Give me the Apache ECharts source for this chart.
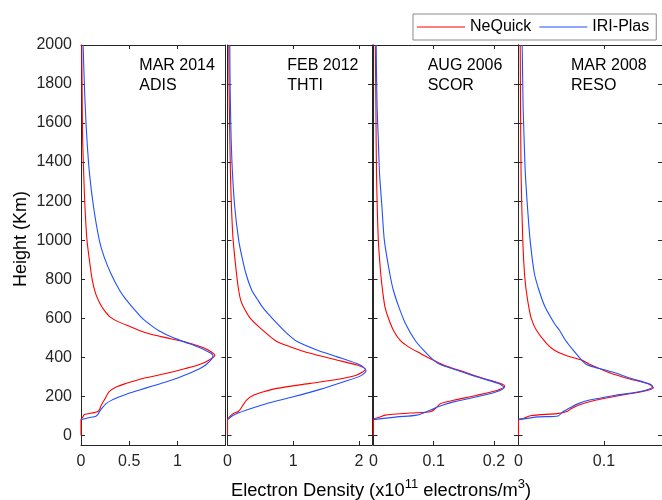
<!DOCTYPE html>
<html>
<head>
<meta charset="utf-8">
<script src="https://cdn.jsdelivr.net/npm/echarts@6/dist/echarts.min.js"></script>
<style>html,body{margin:0;padding:0;background:#fff}#c{width:662px;height:500px}</style>
</head>
<body>
<div id="c"></div>
<script>
// ---------- data ----------
const panelMonths = ['MAR 2014', 'FEB 2012', 'AUG 2006', 'MAR 2008'];
const panelStations = ['ADIS', 'THTI', 'SCOR', 'RESO'];
const xMaxValues = [1.5, 2.2, 0.24, 0.168];
const xTickValues = [[0, 0.5, 1], [0, 1, 2], [0, 0.1, 0.2], [0, 0.1]];
const yTickValues = [0, 200, 400, 600, 800, 1000, 1200, 1400, 1600, 1800, 2000];

// ADIS (MAR 2014)
const adisNeQuickH = [0, 80, 94, 106, 116, 122, 135, 154, 188, 222, 248, 265, 291, 316, 342, 368, 395, 410, 428, 445, 462, 478, 504, 521, 538, 555, 581, 607, 641, 675, 726, 795, 914, 1000, 1171, 1342, 1513, 1683, 1854, 2000];
const adisNeQuickNe = [0, 0, 0.02, 0.034, 0.137, 0.175, 0.195, 0.21, 0.25, 0.29, 0.37, 0.465, 0.64, 0.88, 1.085, 1.26, 1.36, 1.39, 1.35, 1.29, 1.19, 1.085, 0.84, 0.70, 0.60, 0.52, 0.39, 0.30, 0.24, 0.197, 0.152, 0.117, 0.083, 0.062, 0.041, 0.028, 0.017, 0.013, 0.010, 0.007];
const adisIriH = [80, 90, 97, 110, 120, 140, 162, 180, 197, 214, 231, 252, 273, 295, 316, 338, 359, 376, 393, 410, 423, 436, 453, 470, 490, 513, 538, 570, 598, 630, 658, 700, 743, 829, 914, 1000, 1171, 1342, 1513, 1683, 1854, 2000];
const adisIriNe = [0, 0.08, 0.155, 0.18, 0.19, 0.22, 0.26, 0.32, 0.40, 0.49, 0.60, 0.74, 0.88, 1.01, 1.12, 1.22, 1.29, 1.33, 1.36, 1.37, 1.34, 1.29, 1.21, 1.12, 1.01, 0.90, 0.80, 0.71, 0.64, 0.58, 0.53, 0.46, 0.40, 0.31, 0.24, 0.19, 0.13, 0.088, 0.062, 0.044, 0.031, 0.022];

// THTI (FEB 2012)
const thtiNeQuickH = [0, 80, 94, 111, 123, 146, 180, 206, 223, 240, 266, 286, 309, 338, 360, 386, 420, 454, 480, 549, 600, 660, 694, 743, 829, 1000, 1171, 1342, 1513, 1683, 1854, 2000];
const thtiNeQuickNe = [0, 0, 0.03, 0.09, 0.17, 0.22, 0.29, 0.40, 0.55, 0.75, 1.26, 1.66, 1.97, 2.10, 1.97, 1.66, 1.26, 0.95, 0.75, 0.50, 0.345, 0.24, 0.20, 0.17, 0.137, 0.086, 0.06, 0.045, 0.036, 0.028, 0.022, 0.02];
const thtiIriH = [80, 103, 129, 163, 197, 235, 274, 303, 331, 360, 403, 437, 480, 523, 574, 626, 658, 694, 743, 829, 914, 1000, 1171, 1342, 1513, 1683, 1854, 2000];
const thtiIriNe = [0, 0.09, 0.29, 0.60, 1.0, 1.41, 1.77, 2.02, 2.11, 2.02, 1.66, 1.36, 1.06, 0.90, 0.75, 0.61, 0.53, 0.46, 0.37, 0.28, 0.22, 0.17, 0.11, 0.076, 0.056, 0.045, 0.038, 0.035];

// SCOR (AUG 2006)
const scorNeQuickH = [0, 80, 94, 103, 114, 120, 137, 162, 179, 205, 231, 251, 265, 291, 325, 359, 393, 419, 453, 487, 538, 598, 658, 743, 829, 1000, 1342, 1683, 2000];
const scorNeQuickNe = [0, 0, 0.011, 0.019, 0.061, 0.094, 0.103, 0.111, 0.133, 0.172, 0.206, 0.218, 0.211, 0.183, 0.15, 0.117, 0.094, 0.078, 0.058, 0.044, 0.033, 0.025, 0.019, 0.015, 0.012, 0.008, 0.005, 0.004, 0.003];
const scorIriH = [80, 94, 103, 128, 145, 171, 197, 222, 244, 265, 299, 333, 362, 393, 436, 487, 573, 658, 743, 829, 1000, 1171, 1342, 1513, 1683, 1854, 2000];
const scorIriNe = [0, 0.039, 0.072, 0.094, 0.106, 0.133, 0.172, 0.203, 0.217, 0.208, 0.172, 0.139, 0.111, 0.097, 0.083, 0.069, 0.053, 0.042, 0.033, 0.027, 0.018, 0.014, 0.010, 0.008, 0.006, 0.005, 0.0045];

// RESO (MAR 2008)
const resoNeQuickH = [0, 80, 85, 100, 111, 120, 137, 154, 179, 205, 227, 243, 265, 291, 316, 342, 367, 385, 410, 436, 470, 538, 598, 658, 743, 829, 1000, 1342, 2000];
const resoNeQuickNe = [0, 0, 0.005, 0.014, 0.045, 0.056, 0.062, 0.07, 0.090, 0.120, 0.148, 0.158, 0.151, 0.128, 0.109, 0.095, 0.082, 0.074, 0.055, 0.042, 0.033, 0.021, 0.015, 0.012, 0.009, 0.007, 0.005, 0.003, 0.002];
const resoIriH = [80, 94, 99, 120, 145, 162, 179, 205, 222, 240, 250, 265, 291, 325, 350, 364, 385, 436, 487, 538, 573, 658, 743, 829, 1000, 1171, 1342, 1513, 1683, 1854, 2000];
const resoIriNe = [0, 0.023, 0.0465, 0.052, 0.062, 0.070, 0.082, 0.114, 0.140, 0.155, 0.157, 0.152, 0.132, 0.109, 0.088, 0.079, 0.074, 0.064, 0.055, 0.048, 0.042, 0.031, 0.024, 0.0186, 0.0136, 0.0105, 0.008, 0.0066, 0.0054, 0.0048, 0.0043];

const neQuickProfiles = [[adisNeQuickH, adisNeQuickNe], [thtiNeQuickH, thtiNeQuickNe], [scorNeQuickH, scorNeQuickNe], [resoNeQuickH, resoNeQuickNe]];
const iriProfiles = [[adisIriH, adisIriNe], [thtiIriH, thtiIriNe], [scorIriH, scorIriNe], [resoIriH, resoIriNe]];

// ---------- layout ----------
const FONT = '"Liberation Sans", Arial, Helvetica, sans-serif';
const AX = '#262626';
const RED = '#ff0000', BLUE = '#1f4fff';
const gridLefts = [81, 227.5, 373.5, 518.5];
const gridWidth = 144.5;
const gridTop = 45, gridHeight = 400;
const titleX = [139.3, 287.3, 427.7, 571];

const grids = [], xAxes = [], yAxes = [], series = [], graphics = [];
const pair = (H, N) => H.map((h, k) => [N[k], h]);

for (let i = 0; i < 4; i++) {
  grids.push({ left: gridLefts[i], top: gridTop, width: gridWidth, height: gridHeight, containLabel: false });
  const tickStyle = { color: AX, width: 1 };
  const xBase = { gridIndex: i, type: 'value', min: 0, max: xMaxValues[i], splitLine: { show: false },
    axisLine: { show: true, onZero: false, lineStyle: { color: AX, width: 1 } } };
  xAxes.push(Object.assign({}, xBase, { position: 'bottom',
    axisTick: { show: true, inside: true, length: 4, customValues: xTickValues[i], lineStyle: tickStyle },
    axisLabel: { show: true, customValues: xTickValues[i], margin: 9, fontSize: 16, color: AX, fontFamily: FONT,
      formatter: v => String(v) } }));
  xAxes.push(Object.assign({}, xBase, { position: 'top',
    axisTick: { show: true, inside: true, length: 4, customValues: xTickValues[i], lineStyle: tickStyle },
    axisLabel: { show: false } }));
  const yBase = { gridIndex: i, type: 'value', min: -50, max: 2000, splitLine: { show: false },
    axisLine: { show: true, onZero: false, lineStyle: { color: AX, width: 1 } } };
  yAxes.push(Object.assign({}, yBase, { position: 'left',
    axisTick: { show: true, inside: true, length: 4, customValues: yTickValues, lineStyle: tickStyle },
    axisLabel: { show: i === 0, customValues: yTickValues, margin: 9, fontSize: 16, color: AX, fontFamily: FONT,
      formatter: v => String(v) } }));
  yAxes.push(Object.assign({}, yBase, { position: 'right',
    axisTick: { show: true, inside: true, length: 4, customValues: yTickValues, lineStyle: tickStyle },
    axisLabel: { show: false } }));

  series.push({ name: 'NeQuick', type: 'line', xAxisIndex: 2 * i, yAxisIndex: 2 * i,
    data: pair(neQuickProfiles[i][0], neQuickProfiles[i][1]), symbol: 'none', showSymbol: false, smooth: 0.25,
    lineStyle: { color: RED, width: 1.1 }, itemStyle: { color: RED }, z: 3 });
  series.push({ name: 'IRI-Plas', type: 'line', xAxisIndex: 2 * i, yAxisIndex: 2 * i,
    data: pair(iriProfiles[i][0], iriProfiles[i][1]), symbol: 'none', showSymbol: false, smooth: 0.25,
    lineStyle: { color: BLUE, width: 1.1 }, itemStyle: { color: BLUE }, z: 4 });

  graphics.push({ type: 'text', x: titleX[i], y: 66, style: { text: panelMonths[i], font: '16px ' + FONT, fill: '#000', verticalAlign: 'middle' } });
  graphics.push({ type: 'text', x: titleX[i], y: 86, style: { text: panelStations[i], font: '16px ' + FONT, fill: '#000', verticalAlign: 'middle' } });
}

graphics.push({ type: 'text', x: 21, y: 239, rotation: Math.PI / 2,
  style: { text: 'Height (Km)', font: '18px ' + FONT, fill: '#000', align: 'center', verticalAlign: 'middle' } });
graphics.push({ type: 'text', x: 381, y: 489,
  style: { text: '{a|Electron Density (x10}{s|11}{a| electrons/m}{s|3}{a|)}', align: 'center', verticalAlign: 'middle',
    rich: { a: { font: '18.3px ' + FONT, fill: '#000', verticalAlign: 'bottom' },
            s: { font: '13px ' + FONT, fill: '#000', verticalAlign: 'bottom', padding: [0, 0, 9, 0] } } } });

const option = {
  animation: false,
  backgroundColor: '#fff',
  grid: grids,
  xAxis: xAxes,
  yAxis: yAxes,
  legend: {
    data: [{ name: 'NeQuick', icon: 'rect', itemStyle: { color: RED } }, { name: 'IRI-Plas', icon: 'rect', itemStyle: { color: BLUE } }],
    left: 413, top: 14, orient: 'horizontal',
    padding: [5, 7, 5, 4], itemGap: 8, itemWidth: 48, itemHeight: 1.2,
    borderColor: '#8a8a8a', borderWidth: 1, backgroundColor: '#fff',
    textStyle: { fontSize: 16, color: '#000', fontFamily: FONT, lineHeight: 16 }
  },
  series: series,
  graphic: graphics
};

const chart = echarts.init(document.getElementById('c'), null, { renderer: 'canvas' });
chart.setOption(option);
</script>
</body>
</html>
